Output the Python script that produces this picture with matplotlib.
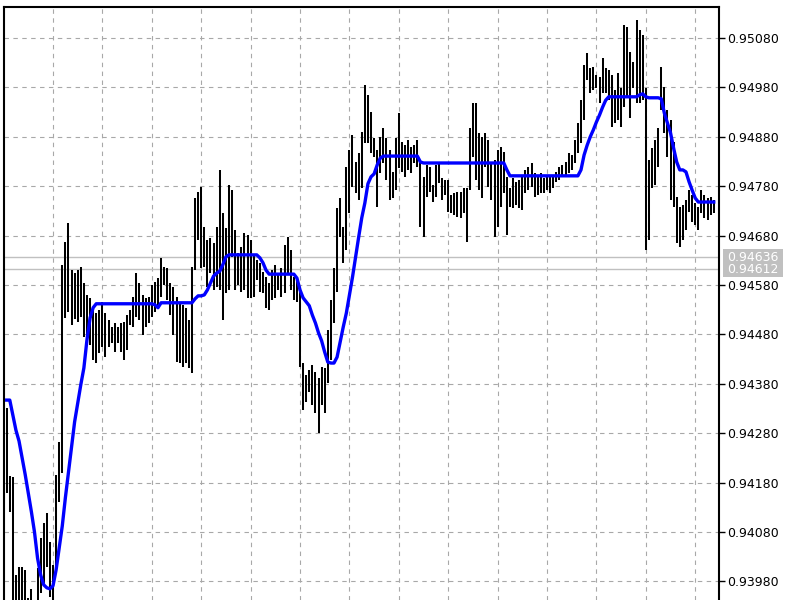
import numpy as np
import matplotlib.pyplot as plt
from matplotlib.patches import Rectangle

# bar highs / lows (one entry per bar, left to right)
highs = [
    0.94331, 0.94194, 0.94192, 0.93993, 0.94009, 0.94009, 0.94003, 0.93947, 0.93965, 0.93942,
    0.94007, 0.94068, 0.94098, 0.94119, 0.94060, 0.94013, 0.94196, 0.94262, 0.94621, 0.94667,
    0.94706, 0.94610, 0.94604, 0.94610, 0.94616, 0.94584, 0.94560, 0.94554, 0.94534, 0.94523,
    0.94529, 0.94546, 0.94523, 0.94509, 0.94495, 0.94503, 0.94495, 0.94503, 0.94505, 0.94519,
    0.94529, 0.94556, 0.94604, 0.94584, 0.94560, 0.94554, 0.94556, 0.94580, 0.94586, 0.94594,
    0.94635, 0.94616, 0.94614, 0.94584, 0.94576, 0.94556, 0.94544, 0.94540, 0.94534, 0.94509,
    0.94616, 0.94756, 0.94768, 0.94778, 0.94698, 0.94671, 0.94675, 0.94665, 0.94698, 0.94813,
    0.94726, 0.94696, 0.94782, 0.94772, 0.94691, 0.94645, 0.94657, 0.94685, 0.94681, 0.94671,
    0.94641, 0.94631, 0.94625, 0.94606, 0.94596, 0.94584, 0.94610, 0.94621, 0.94600, 0.94614,
    0.94661, 0.94677, 0.94651, 0.94596, 0.94590, 0.94570, 0.94422, 0.94398, 0.94408, 0.94418,
    0.94404, 0.94392, 0.94414, 0.94412, 0.94489, 0.94550, 0.94614, 0.94736, 0.94756, 0.94698,
    0.94819, 0.94853, 0.94884, 0.94829, 0.94847, 0.94890, 0.94985, 0.94964, 0.94930, 0.94878,
    0.94853, 0.94880, 0.94898, 0.94878, 0.94853, 0.94809, 0.94878, 0.94928, 0.94869, 0.94863,
    0.94873, 0.94859, 0.94863, 0.94873, 0.94829, 0.94799, 0.94823, 0.94819, 0.94782, 0.94823,
    0.94829, 0.94797, 0.94793, 0.94793, 0.94762, 0.94766, 0.94768, 0.94768, 0.94776, 0.94776,
    0.94898, 0.94948, 0.94948, 0.94888, 0.94880, 0.94888, 0.94873, 0.94827, 0.94833, 0.94853,
    0.94859, 0.94849, 0.94799, 0.94776, 0.94797, 0.94789, 0.94793, 0.94799, 0.94813, 0.94819,
    0.94827, 0.94807, 0.94799, 0.94807, 0.94797, 0.94799, 0.94799, 0.94803, 0.94809, 0.94819,
    0.94823, 0.94829, 0.94847, 0.94843, 0.94873, 0.94908, 0.94954, 0.95025, 0.95050, 0.95019,
    0.95021, 0.95005, 0.95001, 0.95040, 0.95019, 0.95015, 0.95005, 0.94975, 0.95009, 0.94979,
    0.95106, 0.95102, 0.95052, 0.95031, 0.95116, 0.95096, 0.95086, 0.94979, 0.94833, 0.94857,
    0.94873, 0.94898, 0.95021, 0.94981, 0.94934, 0.94914, 0.94869, 0.94758, 0.94738, 0.94742,
    0.94752, 0.94772, 0.94762, 0.94746, 0.94738, 0.94772, 0.94762, 0.94756, 0.94758, 0.94752,
]
lows = [
    0.94159, 0.94121, 0.93922, 0.93918, 0.93922, 0.93932, 0.93926, 0.93912, 0.93918, 0.93906,
    0.93932, 0.93957, 0.93977, 0.94009, 0.93949, 0.93938, 0.94007, 0.94141, 0.94200, 0.94513,
    0.94525, 0.94499, 0.94511, 0.94505, 0.94515, 0.94475, 0.94473, 0.94458, 0.94428, 0.94422,
    0.94442, 0.94454, 0.94434, 0.94454, 0.94463, 0.94444, 0.94463, 0.94444, 0.94428, 0.94448,
    0.94499, 0.94495, 0.94515, 0.94509, 0.94479, 0.94495, 0.94503, 0.94515, 0.94525, 0.94536,
    0.94556, 0.94580, 0.94550, 0.94519, 0.94479, 0.94424, 0.94422, 0.94414, 0.94422, 0.94412,
    0.94402, 0.94610, 0.94671, 0.94614, 0.94616, 0.94576, 0.94604, 0.94570, 0.94576, 0.94570,
    0.94509, 0.94564, 0.94570, 0.94637, 0.94570, 0.94580, 0.94566, 0.94570, 0.94554, 0.94554,
    0.94556, 0.94590, 0.94566, 0.94564, 0.94534, 0.94529, 0.94550, 0.94554, 0.94570, 0.94556,
    0.94564, 0.94604, 0.94570, 0.94550, 0.94546, 0.94414, 0.94327, 0.94343, 0.94363, 0.94337,
    0.94321, 0.94280, 0.94337, 0.94321, 0.94382, 0.94428, 0.94503, 0.94566, 0.94677, 0.94625,
    0.94651, 0.94726, 0.94778, 0.94766, 0.94752, 0.94776, 0.94867, 0.94867, 0.94847, 0.94839,
    0.94738, 0.94807, 0.94827, 0.94793, 0.94752, 0.94756, 0.94772, 0.94817, 0.94809, 0.94799,
    0.94813, 0.94807, 0.94827, 0.94819, 0.94698, 0.94677, 0.94758, 0.94768, 0.94748, 0.94758,
    0.94787, 0.94752, 0.94762, 0.94728, 0.94726, 0.94722, 0.94718, 0.94716, 0.94726, 0.94667,
    0.94772, 0.94839, 0.94793, 0.94772, 0.94756, 0.94819, 0.94778, 0.94752, 0.94677, 0.94698,
    0.94738, 0.94766, 0.94681, 0.94738, 0.94736, 0.94742, 0.94736, 0.94732, 0.94766, 0.94772,
    0.94778, 0.94758, 0.94762, 0.94766, 0.94766, 0.94772, 0.94766, 0.94776, 0.94789, 0.94793,
    0.94799, 0.94803, 0.94807, 0.94813, 0.94827, 0.94847, 0.94867, 0.94914, 0.94995, 0.94969,
    0.94975, 0.94979, 0.94948, 0.94969, 0.94969, 0.94954, 0.94900, 0.94908, 0.94914, 0.94900,
    0.94940, 0.94958, 0.94918, 0.94979, 0.94948, 0.94948, 0.94954, 0.94651, 0.94671, 0.94776,
    0.94782, 0.94819, 0.94934, 0.94888, 0.94839, 0.94752, 0.94738, 0.94665, 0.94657, 0.94671,
    0.94691, 0.94728, 0.94708, 0.94702, 0.94691, 0.94726, 0.94716, 0.94712, 0.94722, 0.94726,
]
# blue indicator line
ma = [
    0.94347, 0.94347, 0.94317, 0.94286, 0.94264, 0.94230, 0.94196, 0.94159, 0.94121, 0.94080,
    0.94027, 0.93993, 0.93973, 0.93967, 0.93965, 0.93971, 0.94003, 0.94048, 0.94092, 0.94149,
    0.94200, 0.94252, 0.94303, 0.94341, 0.94378, 0.94412, 0.94469, 0.94513, 0.94534, 0.94542,
    0.94542, 0.94542, 0.94542, 0.94542, 0.94542, 0.94542, 0.94542, 0.94542, 0.94542, 0.94542,
    0.94542, 0.94542, 0.94542, 0.94542, 0.94542, 0.94542, 0.94542, 0.94542, 0.94540, 0.94534,
    0.94544, 0.94544, 0.94544, 0.94544, 0.94544, 0.94544, 0.94544, 0.94544, 0.94544, 0.94544,
    0.94544, 0.94552, 0.94558, 0.94558, 0.94560, 0.94570, 0.94584, 0.94598, 0.94604, 0.94608,
    0.94621, 0.94637, 0.94641, 0.94641, 0.94641, 0.94641, 0.94641, 0.94641, 0.94641, 0.94641,
    0.94641, 0.94641, 0.94635, 0.94625, 0.94610, 0.94602, 0.94602, 0.94602, 0.94602, 0.94602,
    0.94602, 0.94602, 0.94602, 0.94602, 0.94594, 0.94570, 0.94554, 0.94546, 0.94538, 0.94519,
    0.94503, 0.94483, 0.94467, 0.94444, 0.94424, 0.94422, 0.94422, 0.94434, 0.94465, 0.94495,
    0.94523, 0.94560, 0.94596, 0.94637, 0.94677, 0.94716, 0.94746, 0.94785, 0.94799, 0.94805,
    0.94823, 0.94837, 0.94841, 0.94841, 0.94841, 0.94841, 0.94841, 0.94841, 0.94841, 0.94841,
    0.94841, 0.94841, 0.94841, 0.94841, 0.94829, 0.94827, 0.94827, 0.94827, 0.94827, 0.94827,
    0.94827, 0.94827, 0.94827, 0.94827, 0.94827, 0.94827, 0.94827, 0.94827, 0.94827, 0.94827,
    0.94827, 0.94827, 0.94827, 0.94827, 0.94827, 0.94827, 0.94827, 0.94827, 0.94827, 0.94827,
    0.94827, 0.94827, 0.94813, 0.94801, 0.94801, 0.94801, 0.94801, 0.94801, 0.94801, 0.94801,
    0.94801, 0.94801, 0.94801, 0.94801, 0.94801, 0.94801, 0.94801, 0.94801, 0.94801, 0.94801,
    0.94801, 0.94801, 0.94801, 0.94801, 0.94801, 0.94801, 0.94813, 0.94843, 0.94863, 0.94880,
    0.94894, 0.94910, 0.94924, 0.94940, 0.94954, 0.94961, 0.94961, 0.94961, 0.94961, 0.94961,
    0.94961, 0.94961, 0.94961, 0.94961, 0.94961, 0.94965, 0.94967, 0.94961, 0.94959, 0.94959,
    0.94959, 0.94959, 0.94957, 0.94928, 0.94908, 0.94888, 0.94857, 0.94829, 0.94813, 0.94813,
    0.94809, 0.94789, 0.94772, 0.94756, 0.94748, 0.94748, 0.94748, 0.94748, 0.94748, 0.94748,
]

bid_ask = [0.94636, 0.94612]
price_ticks = [0.93980, 0.94080, 0.94180, 0.94280, 0.94380, 0.94480,
               0.94580, 0.94680, 0.94780, 0.94880, 0.94980, 0.95080]


def main():
    fig = plt.figure(figsize=(8, 6), dpi=100)
    ax = fig.add_axes([4 / 800, 0, 715 / 800, 593 / 600])

    x = np.arange(len(highs))
    ax.vlines(x, lows, highs, color="#000000", lw=1.45, zorder=3)
    ax.plot(x, ma, color="#0000ff", lw=2.4, zorder=4)
    for p in bid_ask:
        ax.axhline(p, color="#c0c0c0", lw=1.0, zorder=2)

    ax.set_xlim(-0.87, 230.7)
    ax.set_ylim(0.939423, 0.951428)

    # grid
    ax.set_xticks(np.arange(15, 231, 16))
    ax.set_yticks(price_ticks)
    ax.grid(True, color="#a8a8a8", lw=0.8, ls=(0, (4, 4)), zorder=1)
    ax.tick_params(axis="x", length=0, labelbottom=False)

    ax.yaxis.tick_right()
    ax.set_yticklabels([f"{t:.5f}" for t in price_ticks])
    ax.tick_params(axis="y", length=4, width=1, pad=1.5, labelsize=9, colors="black")

    for side in ["left", "top", "right"]:
        ax.spines[side].set_linewidth(1.5)
        ax.spines[side].set_color("black")
    ax.spines["bottom"].set_visible(False)

    # bid/ask price labels on the right scale
    tr = ax.get_yaxis_transform()
    ax.add_patch(Rectangle((1.0056, 0.94596), 0.0839, 0.00057, transform=tr,
                           facecolor="#c0c0c0", edgecolor="none",
                           clip_on=False, zorder=5))
    for p in bid_ask:
        ax.text(1.0112, p, f"{p:.5f}", transform=tr, color="white", fontsize=9,
                va="center", ha="left", clip_on=False, zorder=6)

    fig.savefig("out.png", dpi=100)
    plt.close(fig)


if __name__ == "__main__":
    main()
